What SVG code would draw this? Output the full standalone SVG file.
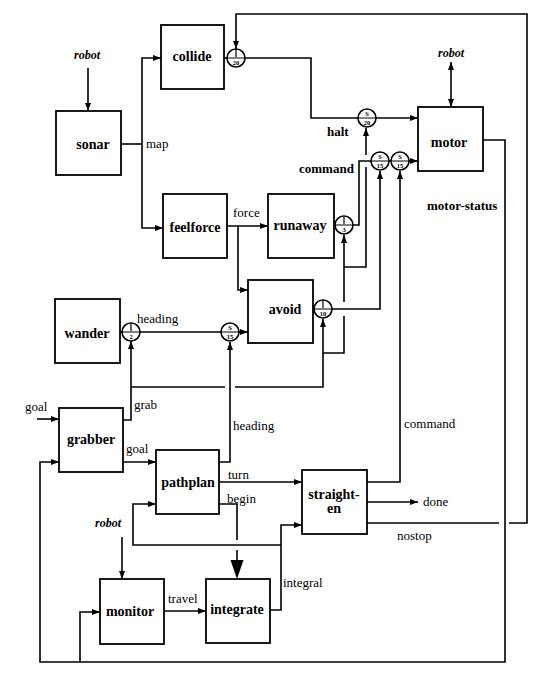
<svg xmlns="http://www.w3.org/2000/svg" width="556" height="698" viewBox="0 0 556 698" font-family="'Liberation Serif', 'DejaVu Serif', serif">
<defs>
<style>
.box{fill:#fff;stroke:#000;stroke-width:1.8}
.nl{font-family:'Liberation Serif','DejaVu Serif',serif;font-weight:bold;font-size:14px;text-anchor:middle;fill:#000}
.el{font-family:'Liberation Serif','DejaVu Serif',serif;font-size:13px;fill:#000}
.eb{font-family:'Liberation Serif','DejaVu Serif',serif;font-size:13px;font-weight:bold;fill:#000}
.rb{font-family:'Liberation Serif','DejaVu Serif',serif;font-size:12px;font-weight:bold;font-style:italic;text-anchor:middle;fill:#000}
.ln{fill:none;stroke:#000;stroke-width:1.6}
.arr{marker-end:url(#ah)}
.cc{fill:#fff;stroke:#000;stroke-width:1.6}
.ct{font-family:'Liberation Serif','DejaVu Serif',serif;font-size:6.5px;font-weight:bold;text-anchor:middle;fill:#000}
</style>
<marker id="ah" markerUnits="userSpaceOnUse" markerWidth="8" markerHeight="6" refX="8" refY="3" orient="auto-start-reverse">
<path d="M0,0 L8,3 L0,6 z" fill="#000"/>
</marker>
</defs>
<rect width="556" height="698" fill="#fff"/>

<g id="connectors">
<path class="ln arr" d="M88,68 V111"/>
<path class="ln" d="M121,144 H142"/>
<path class="ln arr" d="M142,144 V58 H161"/>
<path class="ln arr" d="M142,144 V228 H163"/>
<path class="ln" d="M224,58 H227"/>
<path class="ln" d="M245,58 H311 V118 H358"/>
<path class="ln arr" d="M376,118 H418"/>
<path class="ln" d="M367,523 H499"/>
<path class="ln arr" d="M509,523 H527 V14 H236 V49"/>
<path class="ln" d="M451,107 V62" marker-start="url(#ah)" marker-end="url(#ah)"/>
<path class="ln arr" d="M483,140 H505 V662 H40 V462 H59"/>
<path class="ln arr" d="M80,662 V612 H100"/>
<path class="ln arr" d="M227,226 H268"/>
<path class="ln arr" d="M238,226 V290 H248"/>
<path class="ln" d="M334,225 H335"/>
<path class="ln" d="M353,225 H359 V161 H371"/>
<path class="ln" d="M389,161 H391"/>
<path class="ln arr" d="M409,161 H418"/>
<path class="ln arr" d="M123,420 H131 V341"/>
<path class="ln" d="M131,387 H225"/>
<path class="ln arr" d="M235,387 H323 V319"/>
<path class="ln" d="M323,353 H344 V316"/>
<path class="ln arr" d="M344,302 V235"/>
<path class="ln" d="M344,267 H366 V167"/>
<path class="ln arr" d="M366,155 V128"/>
<path class="ln arr" d="M332,309 H380 V171"/>
<path class="ln arr" d="M367,482 H400 V171"/>
<path class="ln" d="M120,332 H122"/>
<path class="ln" d="M140,332 H221"/>
<path class="ln arr" d="M239,332 H248"/>
<path class="ln arr" d="M219,462 H230 V342"/>
<path class="ln arr" d="M37,419 H59"/>
<path class="ln arr" d="M123,462 H156"/>
<path class="ln arr" d="M219,482 H302"/>
<path class="ln" d="M219,504 H237 V540"/>
<path class="ln" d="M237,550 V561"/>
<path d="M230.5,560 L243.5,560 L237,579 z" fill="#000"/>
<path class="ln arr" d="M270,610 H281 V525 H302"/>
<path class="ln arr" d="M281,545 H133 V504 H156"/>
<path class="ln arr" d="M367,502 H418"/>
<path class="ln arr" d="M122,537 V579"/>
<path class="ln arr" d="M164,611 H206"/>
</g>

<g id="junctions">
<g id="i-collide"><circle class="cc" cx="236" cy="58" r="9"/><line x1="227" y1="58" x2="245" y2="58" stroke="#000" stroke-width="1"/><line x1="236" y1="50" x2="236" y2="57" stroke="#000" stroke-width="1.2"/><text class="ct" x="236" y="65">20</text></g>
<g id="s-halt"><circle class="cc" cx="367" cy="118" r="9"/><line x1="358" y1="118" x2="376" y2="118" stroke="#000" stroke-width="1"/><text class="ct" x="367" y="116">S</text><text class="ct" x="367" y="125">20</text></g>
<g id="s-cmd1"><circle class="cc" cx="380" cy="161" r="9"/><line x1="371" y1="161" x2="389" y2="161" stroke="#000" stroke-width="1"/><text class="ct" x="380" y="159">S</text><text class="ct" x="380" y="168">15</text></g>
<g id="s-cmd2"><circle class="cc" cx="400" cy="161" r="9"/><line x1="391" y1="161" x2="409" y2="161" stroke="#000" stroke-width="1"/><text class="ct" x="400" y="159">S</text><text class="ct" x="400" y="168">15</text></g>
<g id="i-runaway"><circle class="cc" cx="344" cy="225" r="9"/><line x1="335" y1="225" x2="353" y2="225" stroke="#000" stroke-width="1"/><line x1="344" y1="217" x2="344" y2="224" stroke="#000" stroke-width="1.2"/><text class="ct" x="344" y="232">3</text></g>
<g id="i-avoid"><circle class="cc" cx="323" cy="309" r="9"/><line x1="314" y1="309" x2="332" y2="309" stroke="#000" stroke-width="1"/><line x1="323" y1="301" x2="323" y2="308" stroke="#000" stroke-width="1.2"/><text class="ct" x="323" y="316">10</text></g>
<g id="i-wander"><circle class="cc" cx="131" cy="332" r="9"/><line x1="122" y1="332" x2="140" y2="332" stroke="#000" stroke-width="1"/><line x1="131" y1="324" x2="131" y2="331" stroke="#000" stroke-width="1.2"/><text class="ct" x="131" y="339">2</text></g>
<g id="s-heading"><circle class="cc" cx="230" cy="332" r="9"/><line x1="221" y1="332" x2="239" y2="332" stroke="#000" stroke-width="1"/><text class="ct" x="230" y="330">S</text><text class="ct" x="230" y="339">15</text></g>
</g>

<g id="collide"><rect class="box" x="161" y="25" width="63" height="64"/><text class="nl" x="192" y="61">collide</text></g>
<g id="sonar"><rect class="box" x="56" y="111" width="65" height="64"/><text class="nl" x="93" y="149">sonar</text></g>
<g id="feelforce"><rect class="box" x="163" y="194" width="64" height="64"/><text class="nl" x="195" y="232">feelforce</text></g>
<g id="runaway"><rect class="box" x="268" y="194" width="66" height="64"/><text class="nl" x="300" y="230">runaway</text></g>
<g id="avoid"><rect class="box" x="248" y="280" width="65" height="63"/><text class="nl" x="285" y="314">avoid</text></g>
<g id="wander"><rect class="box" x="55" y="299" width="65" height="64"/><text class="nl" x="87" y="338">wander</text></g>
<g id="motor"><rect class="box" x="418" y="107" width="65" height="64"/><text class="nl" x="449" y="147">motor</text></g>
<g id="grabber"><rect class="box" x="59" y="408" width="64" height="64"/><text class="nl" x="91" y="444">grabber</text></g>
<g id="pathplan"><rect class="box" x="156" y="450" width="63" height="64"/><text class="nl" x="188" y="487">pathplan</text></g>
<g id="straighten"><rect class="box" x="302" y="470" width="65" height="64"/><text class="nl" x="334" y="499">straight-</text><text class="nl" x="334" y="513">en</text></g>
<g id="monitor"><rect class="box" x="100" y="579" width="64" height="65"/><text class="nl" x="130" y="616">monitor</text></g>
<g id="integrate"><rect class="box" x="206" y="579" width="64" height="64"/><text class="nl" x="237" y="614">integrate</text></g>

<g id="labels">
<text class="rb" x="87" y="59">robot</text>
<text class="rb" x="451" y="57">robot</text>
<text class="rb" x="108" y="527">robot</text>
<text class="el" x="146" y="148">map</text>
<text class="el" x="233" y="217">force</text>
<text class="eb" x="327" y="136">halt</text>
<text class="eb" x="299" y="173">command</text>
<text class="eb" x="427" y="210">motor-status</text>
<text class="el" x="137" y="323">heading</text>
<text class="el" x="134" y="409">grab</text>
<text class="el" x="25" y="411">goal</text>
<text class="el" x="126" y="453">goal</text>
<text class="el" x="233" y="430">heading</text>
<text class="el" x="228" y="479">turn</text>
<text class="el" x="227" y="503">begin</text>
<text class="el" x="404" y="428">command</text>
<text class="el" x="423" y="506">done</text>
<text class="el" x="397" y="540">nostop</text>
<text class="el" x="283" y="587">integral</text>
<text class="el" x="168" y="603">travel</text>
</g>
</svg>
